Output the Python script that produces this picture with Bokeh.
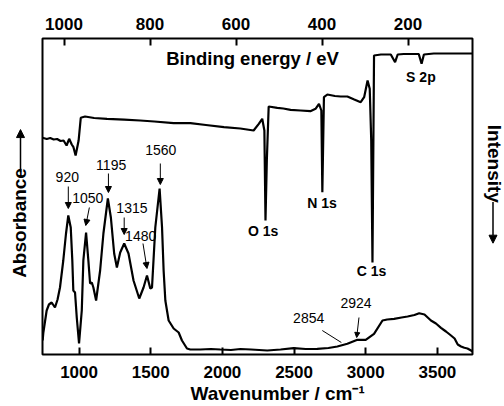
import math
from bokeh.plotting import figure
from bokeh.models import Range1d, LinearAxis, FixedTicker, Label, Arrow, NormalHead, Title
from bokeh.layouts import row
from bokeh.embed import file_html
from bokeh.resources import INLINE

# ---------------- data ----------------
# FTIR spectrum (wavenumber / cm^-1, absorbance a.u.)
ir_wavenumber = [746, 751, 774, 790, 809, 832, 850, 867, 890, 909, 925, 942, 953, 960, 972,
                 984, 1000, 1019, 1030, 1049, 1065, 1077, 1089, 1100, 1119, 1147, 1170, 1201,
                 1222, 1245, 1264, 1287, 1315, 1345, 1380, 1420, 1450, 1474, 1497, 1509, 1532,
                 1562, 1579, 1590, 1602, 1625, 1660, 1695, 1718, 1753, 1776, 1846, 1920, 1986,
                 2060, 2126, 2200, 2313, 2406, 2497, 2581, 2662, 2740, 2802, 2872, 2942, 3000,
                 3058, 3117, 3150, 3198, 3250, 3292, 3340, 3373, 3410, 3455, 3490, 3525, 3560,
                 3595, 3620, 3642, 3665, 3688, 3710, 3735, 3745]
ir_absorbance = [14, 22, 44, 50, 52, 47, 55, 67, 94, 121, 139, 127, 94, 64, 62,
                 37, 11, 44, 94, 122, 94, 71, 72, 67, 54, 84, 121, 156,
                 137, 101, 87, 102, 111, 101, 74, 56, 67, 79, 66, 67, 127,
                 166, 127, 84, 54, 34, 26, 22, 14, 6, 5, 5, 5.5, 5,
                 4.5, 5.5, 5, 4, 5, 6.3, 5.5, 5.7, 6.5, 8, 10.7, 14.7, 14.7,
                 20.7, 34, 35, 35.7, 37, 38, 39.5, 41.3, 40, 34, 31, 26.7, 23,
                 19, 16, 10, 8, 6.7, 6, 4, 3]

# XPS survey (binding energy / eV, intensity a.u., offset)
xps_binding_energy = [1050, 1040, 1032, 1024, 1016, 1008, 1001, 994, 988, 982, 978, 973, 966,
                      961, 951, 930, 900, 860, 823, 790, 745, 706, 670, 628, 590, 559,
                      547, 539, 534, 531.4, 528.3, 524, 504, 490, 473, 450, 427, 415, 407,
                      401.5, 399.2, 395.5, 387.5, 370, 356.5, 341, 325, 310, 302, 294, 289,
                      285.5, 282.6, 279, 263, 240, 230, 224, 210, 193, 175, 168.4, 163,
                      140, 123, 90, 50]
xps_intensity = [216.7, 215.5, 216.5, 215, 215.5, 213.5, 214, 209, 215.7, 210, 207.3, 199, 214,
                 236.7, 238, 236.5, 235.7, 234.8, 234, 233, 231.3, 231.3, 229.5, 227.3, 226, 224,
                 230.7, 235.7, 224, 134, 194, 248, 246.7, 246, 244.7, 244, 243.3, 245.7, 250.7,
                 244, 162.3, 257.3, 260, 258.5, 258, 258, 255, 252.3, 257.3, 274, 265.7,
                 214, 92, 299, 300, 300, 292.3, 300, 300.5, 300.5, 300.5, 290.7, 300,
                 301, 301, 301, 301]

bottom_ticks = [1000, 1500, 2000, 2500, 3000, 3500]
top_ticks = [1000, 800, 600, 400, 200]

ir_peak_texts = ["920", "1050", "1195", "1315", "1480", "1560", "2854", "2924"]
xps_peak_texts = ["O 1s", "N 1s", "C 1s", "S 2p"]
x_title = "Wavenumber / cm\u207b\u00b9"
top_title = "Binding energy / eV"
left_title = "Absorbance"
right_title = "Intensity"

FONT = "Liberation Sans"
H = 406


def blank(width, height, xr, yr):
    f = figure(width=width, height=height, output_backend="svg", toolbar_location=None,
               title=None, x_range=Range1d(*xr), y_range=Range1d(*yr),
               x_axis_location=None, y_axis_location=None, min_border=0)
    f.outline_line_color = None
    f.grid.visible = False
    f.background_fill_color = "white"
    f.border_fill_color = "white"
    return f


def txt(f, x, y, t, size="14px", bold=False, angle=0.0, xr="default", align="center",
        baseline="middle"):
    f.add_layout(Label(x=x, y=y, text=t, x_range_name=xr, text_font=FONT,
                       text_font_size=size, text_font_style="bold" if bold else "normal",
                       text_color="black", text_align=align, text_baseline=baseline,
                       angle=angle))


def arr(f, x0, y0, x1, y1, head=True, size=6, lw=1.0):
    end = NormalHead(size=size, fill_color="black", line_color="black", line_width=1) if head else None
    f.add_layout(Arrow(x_start=x0, y_start=y0, x_end=x1, y_end=y1, end=end,
                       line_color="black", line_width=lw))


# ---------------- main figure ----------------
p = figure(width=438, height=H, output_backend="svg", toolbar_location=None, title=None,
           x_range=Range1d(745, 3745), y_range=Range1d(0, 316),
           y_axis_location=None, x_axis_location="below",
           min_border_left=4, min_border_right=4, min_border_top=38, min_border_bottom=52)
p.extra_x_ranges = {"ev": Range1d(1050, 50)}
p.background_fill_color = "white"
p.border_fill_color = "white"
p.outline_line_color = "black"
p.outline_line_width = 2
p.grid.visible = False


def style_axis(ax, standoff):
    ax.axis_line_color = None
    ax.major_tick_in = 7
    ax.major_tick_out = 0
    ax.major_tick_line_width = 2
    ax.major_tick_line_color = "black"
    ax.minor_tick_line_color = None
    ax.major_label_text_font = FONT
    ax.major_label_text_font_style = "bold"
    ax.major_label_text_font_size = "17px"
    ax.major_label_text_color = "black"
    ax.major_label_standoff = standoff


xb = p.xaxis[0]
xb.ticker = FixedTicker(ticks=bottom_ticks)
style_axis(xb, 11)

xt = LinearAxis(x_range_name="ev", ticker=FixedTicker(ticks=top_ticks))
style_axis(xt, 9)
p.add_layout(xt, "above")

p.add_layout(Title(text=x_title, align="left", offset=148, standoff=0,
                   text_font=FONT, text_font_size="19px", text_font_style="bold",
                   text_color="black"), "below")

p.line(ir_wavenumber, ir_absorbance, line_color="black", line_width=2.2)
p.line(xps_binding_energy, xps_intensity, x_range_name="ev", line_color="black", line_width=2.2)

ir_label_pos = [(918, 178), (1061, 157), (1224, 190), (1369, 147), (1430, 119), (1570, 205),
                (2602, 37), (2932, 52)]
for t, (x, y) in zip(ir_peak_texts, ir_label_pos):
    txt(p, x, y, t)
arr(p, 925, 168, 925, 146)
arr(p, 1072, 147, 1047, 129)
arr(p, 1205, 181, 1205, 162)
arr(p, 1315, 137, 1315, 120)
arr(p, 1446, 111, 1474, 86)
arr(p, 1567, 191, 1567, 170)
arr(p, 2697, 24, 2830, 12, head=False)
arr(p, 2953, 37, 2937, 17, size=5)

xps_label_pos = [(537, 124), (400, 152), (285, 84), (170, 278)]
for t, (x, y) in zip(xps_peak_texts, xps_label_pos):
    txt(p, x, y, t, bold=True, xr="ev")

txt(p, 2210, 296, top_title, size="18.5px", bold=True)

# ---------------- side panels (pixel coordinates of the page) ----------------
left = blank(38, H, (0, 38), (H, 0))
txt(left, 18.5, 237, left_title, size="19px", bold=True, angle=math.pi / 2)
arr(left, 20, 172, 20, 117, size=8, lw=1.5)

right = blank(28, H, (476, 504), (H, 0))
txt(right, 494, 161, right_title, size="19px", bold=True, angle=-math.pi / 2)
arr(right, 492.5, 210, 492.5, 263, size=8, lw=1.5)

layout = row(left, p, right)

open("out.html", "w").write(file_html(layout, INLINE))
